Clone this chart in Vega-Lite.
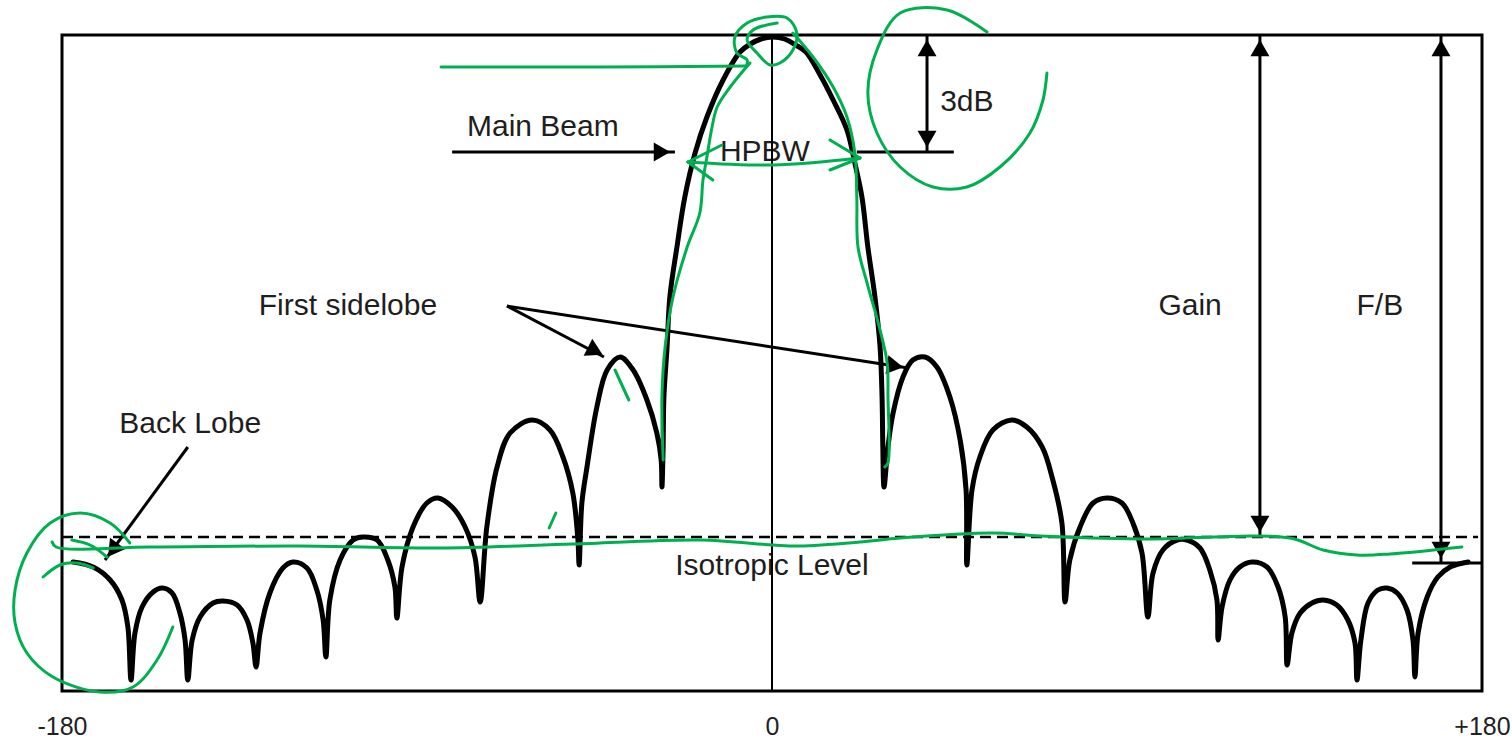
{
  "$schema": "https://vega.github.io/schema/vega-lite/v6.json",
  "width": 1420,
  "height": 656,
  "autosize": {"type": "none"},
  "padding": {"left": 62, "top": 35, "right": 30, "bottom": 50},
  "background": "white",
  "config": {"view": {"stroke": "black", "strokeWidth": 3}},
  "datasets": {
    "pattern": [
      {"a": -177.2, "g": 129}, {"a": -172.1, "g": 124}, {"a": -167.8, "g": 111}, {"a": -164.8, "g": 91}, {"a": -163.3, "g": 64}, {"a": -162.5, "g": 11},
      {"a": -161.5, "g": 58}, {"a": -159.7, "g": 84}, {"a": -156.9, "g": 99}, {"a": -154.6, "g": 103}, {"a": -152.1, "g": 98}, {"a": -150.1, "g": 78}, {"a": -148.8, "g": 51}, {"a": -148.1, "g": 11},
      {"a": -147.0, "g": 51}, {"a": -145.0, "g": 74}, {"a": -141.7, "g": 88}, {"a": -139.2, "g": 90}, {"a": -135.6, "g": 86}, {"a": -133.1, "g": 71}, {"a": -131.6, "g": 48}, {"a": -130.8, "g": 24},
      {"a": -129.8, "g": 58}, {"a": -127.3, "g": 98}, {"a": -124.0, "g": 123}, {"a": -121.4, "g": 129}, {"a": -117.9, "g": 123}, {"a": -115.4, "g": 101}, {"a": -113.8, "g": 71}, {"a": -113.1, "g": 34},
      {"a": -112.1, "g": 91}, {"a": -109.5, "g": 131}, {"a": -106.2, "g": 151}, {"a": -103.7, "g": 154}, {"a": -100.1, "g": 151}, {"a": -97.4, "g": 131}, {"a": -95.6, "g": 104}, {"a": -95.1, "g": 73},
      {"a": -93.8, "g": 124}, {"a": -91.0, "g": 164}, {"a": -87.5, "g": 188}, {"a": -84.7, "g": 193}, {"a": -81.1, "g": 184}, {"a": -77.8, "g": 164}, {"a": -75.3, "g": 134}, {"a": -74.0, "g": 89},
      {"a": -72.3, "g": 164}, {"a": -69.7, "g": 224}, {"a": -66.4, "g": 258}, {"a": -60.8, "g": 271}, {"a": -56.3, "g": 261}, {"a": -53.0, "g": 234}, {"a": -50.5, "g": 198}, {"a": -49.2, "g": 151}, {"a": -48.9, "g": 126},
      {"a": -48.2, "g": 188}, {"a": -46.9, "g": 224}, {"a": -44.4, "g": 284}, {"a": -41.8, "g": 321}, {"a": -38.5, "g": 334}, {"a": -35.2, "g": 321}, {"a": -31.7, "g": 291}, {"a": -29.2, "g": 258}, {"a": -28.1, "g": 231}, {"a": -27.9, "g": 204},
      {"a": -27.6, "g": 244}, {"a": -27.4, "g": 294}, {"a": -26.6, "g": 344}, {"a": -25.9, "g": 394}, {"a": -24.1, "g": 444}, {"a": -22.1, "g": 494}, {"a": -19.5, "g": 538}, {"a": -16.5, "g": 574}, {"a": -12.4, "g": 611},
      {"a": -8.1, "g": 639}, {"a": -5.5, "g": 647}, {"a": -2.8, "g": 652}, {"a": 0.2, "g": 654}, {"a": 3.2, "g": 652}, {"a": 6.0, "g": 646}, {"a": 8.6, "g": 639},
      {"a": 12.2, "g": 616}, {"a": 15.5, "g": 591}, {"a": 19.0, "g": 561}, {"a": 21.0, "g": 528}, {"a": 22.8, "g": 494}, {"a": 24.3, "g": 444}, {"a": 26.1, "g": 394}, {"a": 27.4, "g": 344}, {"a": 27.9, "g": 294}, {"a": 28.1, "g": 244}, {"a": 28.4, "g": 204},
      {"a": 29.4, "g": 244}, {"a": 30.7, "g": 278}, {"a": 33.2, "g": 314}, {"a": 35.7, "g": 331}, {"a": 38.8, "g": 334}, {"a": 41.8, "g": 324}, {"a": 45.1, "g": 294}, {"a": 47.7, "g": 251}, {"a": 49.2, "g": 201}, {"a": 49.4, "g": 126},
      {"a": 50.7, "g": 201}, {"a": 52.7, "g": 234}, {"a": 56.0, "g": 261}, {"a": 60.8, "g": 271}, {"a": 64.6, "g": 264}, {"a": 68.5, "g": 244}, {"a": 71.2, "g": 211}, {"a": 73.5, "g": 168}, {"a": 74.3, "g": 89},
      {"a": 75.5, "g": 131}, {"a": 78.1, "g": 164}, {"a": 81.4, "g": 188}, {"a": 84.9, "g": 193}, {"a": 88.7, "g": 188}, {"a": 91.5, "g": 168}, {"a": 93.8, "g": 138}, {"a": 95.3, "g": 74},
      {"a": 96.6, "g": 118}, {"a": 99.1, "g": 141}, {"a": 102.7, "g": 151}, {"a": 105.2, "g": 151}, {"a": 108.5, "g": 143}, {"a": 111.0, "g": 121}, {"a": 112.8, "g": 91}, {"a": 113.1, "g": 51},
      {"a": 114.1, "g": 84}, {"a": 116.1, "g": 111}, {"a": 118.6, "g": 124}, {"a": 121.7, "g": 129}, {"a": 125.5, "g": 124}, {"a": 128.3, "g": 104}, {"a": 130.1, "g": 74}, {"a": 130.6, "g": 26},
      {"a": 131.8, "g": 58}, {"a": 133.9, "g": 78}, {"a": 136.9, "g": 88}, {"a": 139.7, "g": 91}, {"a": 143.2, "g": 86}, {"a": 146.0, "g": 71}, {"a": 147.8, "g": 48}, {"a": 148.3, "g": 11},
      {"a": 149.3, "g": 51}, {"a": 151.1, "g": 88}, {"a": 153.6, "g": 101}, {"a": 155.9, "g": 103}, {"a": 158.5, "g": 98}, {"a": 161.0, "g": 81}, {"a": 162.5, "g": 51}, {"a": 163.0, "g": 14},
      {"a": 163.8, "g": 58}, {"a": 166.1, "g": 94}, {"a": 168.8, "g": 114}, {"a": 171.9, "g": 124}, {"a": 175.2, "g": 128}, {"a": 176.5, "g": 129}
    ],
    "segs": [
      {"k": "axis", "a": 0, "g": 0, "a2": 0, "g2": 656},
      {"k": "iso", "a": -180, "g": 154, "a2": 179, "g2": 154},
      {"k": "arrow", "a": 123.7, "g": 154, "a2": 123.7, "g2": 656},
      {"k": "arrow", "a": 169.6, "g": 128, "a2": 169.6, "g2": 656},
      {"k": "arrow", "a": 162.3, "g": 128, "a2": 180, "g2": 128},
      {"k": "arrow", "a": 39.3, "g": 539, "a2": 39.3, "g2": 656},
      {"k": "arrow", "a": 21.5, "g": 539, "a2": 46.1, "g2": 539},
      {"k": "arrow", "a": -81.1, "g": 539, "a2": -24.6, "g2": 539},
      {"k": "arrow", "a": -67.2, "g": 385, "a2": -42.6, "g2": 334},
      {"k": "arrow", "a": -67.2, "g": 385, "a2": 34.5, "g2": 323},
      {"k": "arrow", "a": -148.1, "g": 244, "a2": -169.1, "g2": 131}
    ],
    "heads": [
      {"a": 123.7, "g": 643, "r": 0}, {"a": 123.7, "g": 167, "r": 180},
      {"a": 169.6, "g": 643, "r": 0}, {"a": 169.6, "g": 141, "r": 180},
      {"a": 39.3, "g": 643, "r": 0}, {"a": 39.3, "g": 552, "r": 180},
      {"a": -27.9, "g": 539, "r": 90},
      {"a": -44.8, "g": 340, "r": 117},
      {"a": 31.2, "g": 325, "r": 99},
      {"a": -167.1, "g": 141, "r": 216}
    ],
    "labels": [
      {"t": "Main Beam", "a": -58.1, "g": 564},
      {"t": "HPBW", "a": -1.8, "g": 539},
      {"t": "3dB", "a": 49.4, "g": 589},
      {"t": "Gain", "a": 106.0, "g": 385},
      {"t": "F/B", "a": 154.1, "g": 385},
      {"t": "First sidelobe", "a": -107.5, "g": 385},
      {"t": "Back Lobe", "a": -147.5, "g": 267},
      {"t": "Isotropic Level", "a": 0, "g": 125}
    ],
    "marks": [
      {"s": "g1", "i": 0, "a": -83.9, "g": 624}, {"s": "g1", "i": 1, "a": -43.6, "g": 624}, {"s": "g1", "i": 2, "a": -6.3, "g": 625},
      {"s": "g2", "i": 0, "a": -6.6, "g": 624}, {"s": "g2", "i": 1, "a": -6.3, "g": 631}, {"s": "g2", "i": 2, "a": -8.9, "g": 638}, {"s": "g2", "i": 3, "a": -9.4, "g": 654}, {"s": "g2", "i": 4, "a": -6.3, "g": 668}, {"s": "g2", "i": 5, "a": -1.3, "g": 674}, {"s": "g2", "i": 6, "a": 3.8, "g": 673}, {"s": "g2", "i": 7, "a": 6.3, "g": 658}, {"s": "g2", "i": 8, "a": 5.3, "g": 641}, {"s": "g2", "i": 9, "a": 2.0, "g": 628}, {"s": "g2", "i": 10, "a": -0.5, "g": 626}, {"s": "g2", "i": 11, "a": -3.8, "g": 638}, {"s": "g2", "i": 12, "a": -6.3, "g": 651}, {"s": "g2", "i": 13, "a": -4.8, "g": 661}, {"s": "g2", "i": 14, "a": 1.3, "g": 668},
      {"s": "g3", "i": 0, "a": -5.6, "g": 628}, {"s": "g3", "i": 1, "a": -10.6, "g": 604}, {"s": "g3", "i": 2, "a": -13.9, "g": 584}, {"s": "g3", "i": 3, "a": -15.2, "g": 564}, {"s": "g3", "i": 4, "a": -16.5, "g": 534}, {"s": "g3", "i": 5, "a": -17.5, "g": 511}, {"s": "g3", "i": 6, "a": -18.3, "g": 478}, {"s": "g3", "i": 7, "a": -21.5, "g": 444}, {"s": "g3", "i": 8, "a": -25.1, "g": 394}, {"s": "g3", "i": 9, "a": -27.1, "g": 344}, {"s": "g3", "i": 10, "a": -27.9, "g": 294}, {"s": "g3", "i": 11, "a": -27.6, "g": 231},
      {"s": "g4", "i": 0, "a": 5.3, "g": 658}, {"s": "g4", "i": 1, "a": 10.4, "g": 634}, {"s": "g4", "i": 2, "a": 15.5, "g": 604}, {"s": "g4", "i": 3, "a": 19.0, "g": 574}, {"s": "g4", "i": 4, "a": 21.0, "g": 538}, {"s": "g4", "i": 5, "a": 21.5, "g": 494}, {"s": "g4", "i": 6, "a": 21.8, "g": 444}, {"s": "g4", "i": 7, "a": 24.1, "g": 408}, {"s": "g4", "i": 8, "a": 27.4, "g": 361}, {"s": "g4", "i": 9, "a": 29.2, "g": 328}, {"s": "g4", "i": 10, "a": 29.4, "g": 294}, {"s": "g4", "i": 11, "a": 29.4, "g": 228}, {"s": "g4", "i": 12, "a": 28.6, "g": 224},
      {"s": "g5", "i": 0, "a": -21.3, "g": 529}, {"s": "g5", "i": 1, "a": 0.3, "g": 526}, {"s": "g5", "i": 2, "a": 22.3, "g": 533},
      {"s": "g6a", "i": 0, "a": -12.7, "g": 546}, {"s": "g6a", "i": 1, "a": -21.3, "g": 529},
      {"s": "g6b", "i": 0, "a": -21.3, "g": 529}, {"s": "g6b", "i": 1, "a": -15.0, "g": 511},
      {"s": "g7a", "i": 0, "a": 14.7, "g": 551}, {"s": "g7a", "i": 1, "a": 22.3, "g": 533},
      {"s": "g7b", "i": 0, "a": 22.3, "g": 533}, {"s": "g7b", "i": 1, "a": 14.7, "g": 521},
      {"s": "g8", "i": 0, "a": 54.5, "g": 659}, {"s": "g8", "i": 1, "a": 44.4, "g": 681}, {"s": "g8", "i": 2, "a": 32.5, "g": 678}, {"s": "g8", "i": 3, "a": 26.6, "g": 641}, {"s": "g8", "i": 4, "a": 24.3, "g": 598}, {"s": "g8", "i": 5, "a": 26.6, "g": 558}, {"s": "g8", "i": 6, "a": 32.5, "g": 524}, {"s": "g8", "i": 7, "a": 40.8, "g": 504}, {"s": "g8", "i": 8, "a": 49.4, "g": 504}, {"s": "g8", "i": 9, "a": 57.8, "g": 524}, {"s": "g8", "i": 10, "a": 65.4, "g": 558}, {"s": "g8", "i": 11, "a": 68.7, "g": 591}, {"s": "g8", "i": 12, "a": 69.7, "g": 618},
      {"s": "g9", "i": 0, "a": -182.5, "g": 149}, {"s": "g9", "i": 1, "a": -181.5, "g": 144}, {"s": "g9", "i": 2, "a": -157.7, "g": 144}, {"s": "g9", "i": 3, "a": -119.7, "g": 145}, {"s": "g9", "i": 4, "a": -84.2, "g": 143}, {"s": "g9", "i": 5, "a": -50.5, "g": 147}, {"s": "g9", "i": 6, "a": -18.3, "g": 151}, {"s": "g9", "i": 7, "a": 0.3, "g": 146}, {"s": "g9", "i": 8, "a": 7.1, "g": 145}, {"s": "g9", "i": 9, "a": 22.3, "g": 149}, {"s": "g9", "i": 10, "a": 32.5, "g": 153}, {"s": "g9", "i": 11, "a": 56.0, "g": 158}, {"s": "g9", "i": 12, "a": 67.9, "g": 155}, {"s": "g9", "i": 13, "a": 93.3, "g": 152}, {"s": "g9", "i": 14, "a": 131.3, "g": 153}, {"s": "g9", "i": 15, "a": 139.7, "g": 141}, {"s": "g9", "i": 16, "a": 148.3, "g": 136}, {"s": "g9", "i": 17, "a": 156.7, "g": 137}, {"s": "g9", "i": 18, "a": 174.9, "g": 144},
      {"s": "g10", "i": 0, "a": -162.8, "g": 148}, {"s": "g10", "i": 1, "a": -167.8, "g": 168}, {"s": "g10", "i": 2, "a": -175.4, "g": 178}, {"s": "g10", "i": 3, "a": -183.0, "g": 168}, {"s": "g10", "i": 4, "a": -188.9, "g": 138}, {"s": "g10", "i": 5, "a": -191.9, "g": 101}, {"s": "g10", "i": 6, "a": -191.9, "g": 68}, {"s": "g10", "i": 7, "a": -188.9, "g": 38}, {"s": "g10", "i": 8, "a": -182.3, "g": 14}, {"s": "g10", "i": 9, "a": -170.4, "g": -1}, {"s": "g10", "i": 10, "a": -162.0, "g": 4}, {"s": "g10", "i": 11, "a": -155.9, "g": 31}, {"s": "g10", "i": 12, "a": -151.9, "g": 64},
      {"s": "g11", "i": 0, "a": -177.5, "g": 151}, {"s": "g11", "i": 1, "a": -172.9, "g": 146}, {"s": "g11", "i": 2, "a": -168.6, "g": 134},
      {"s": "g12", "i": 0, "a": -184.8, "g": 114}, {"s": "g12", "i": 1, "a": -180.5, "g": 126}, {"s": "g12", "i": 2, "a": -176.2, "g": 128}, {"s": "g12", "i": 3, "a": -172.1, "g": 123},
      {"s": "g13", "i": 0, "a": -39.8, "g": 321}, {"s": "g13", "i": 1, "a": -36.3, "g": 291},
      {"s": "g14", "i": 0, "a": -54.8, "g": 178}, {"s": "g14", "i": 1, "a": -56.5, "g": 163}
    ]
  },
  "encoding": {
    "x": {
      "field": "a", "type": "quantitative",
      "scale": {"domain": [-180, 180], "nice": false, "zero": false},
      "axis": {
        "values": [-180, 0, 180],
        "labelExpr": "datum.value > 0 ? '+' + datum.value : '' + datum.value",
        "domain": false, "ticks": false, "tickSize": 0, "grid": false,
        "labelFlush": false, "labelOverlap": false, "labelPadding": 23,
        "labelFont": "Liberation Sans", "labelFontSize": 25, "labelColor": "#222222",
        "title": null
      }
    },
    "y": {
      "field": "g", "type": "quantitative",
      "scale": {"domain": [0, 656], "nice": false, "zero": false},
      "axis": null
    }
  },
  "layer": [
    {
      "data": {"name": "labels"},
      "mark": {"type": "text", "font": "Liberation Sans", "fontSize": 30, "align": "center", "baseline": "middle", "color": "#1e1e1e"},
      "encoding": {"text": {"field": "t", "type": "nominal"}}
    },
    {
      "data": {"name": "segs"},
      "transform": [{"filter": "datum.k === 'axis'"}],
      "mark": {"type": "rule", "color": "black", "strokeWidth": 2},
      "encoding": {"x2": {"field": "a2"}, "y2": {"field": "g2"}}
    },
    {
      "data": {"name": "segs"},
      "transform": [{"filter": "datum.k === 'iso'"}],
      "mark": {"type": "rule", "color": "black", "strokeWidth": 2.5, "strokeDash": [11, 6]},
      "encoding": {"x2": {"field": "a2"}, "y2": {"field": "g2"}}
    },
    {
      "data": {"name": "pattern"},
      "mark": {"type": "line", "interpolate": "catmull-rom", "color": "black", "strokeWidth": 5, "strokeJoin": "round", "strokeCap": "round"},
      "encoding": {}
    },
    {
      "data": {"name": "segs"},
      "transform": [{"filter": "datum.k === 'arrow'"}],
      "mark": {"type": "rule", "color": "black", "strokeWidth": 3},
      "encoding": {"x2": {"field": "a2"}, "y2": {"field": "g2"}}
    },
    {
      "data": {"name": "heads"},
      "mark": {"type": "point", "shape": "triangle-up", "filled": true, "color": "black", "opacity": 1, "size": 360},
      "encoding": {"angle": {"field": "r", "type": "quantitative", "scale": null}}
    },
    {
      "data": {"name": "marks"},
      "mark": {"type": "line", "interpolate": "catmull-rom", "color": "#00b050", "strokeWidth": 3, "strokeCap": "round", "strokeJoin": "round"},
      "encoding": {
        "detail": {"field": "s", "type": "nominal"},
        "order": {"field": "i", "type": "quantitative"}
      }
    }
  ]
}
